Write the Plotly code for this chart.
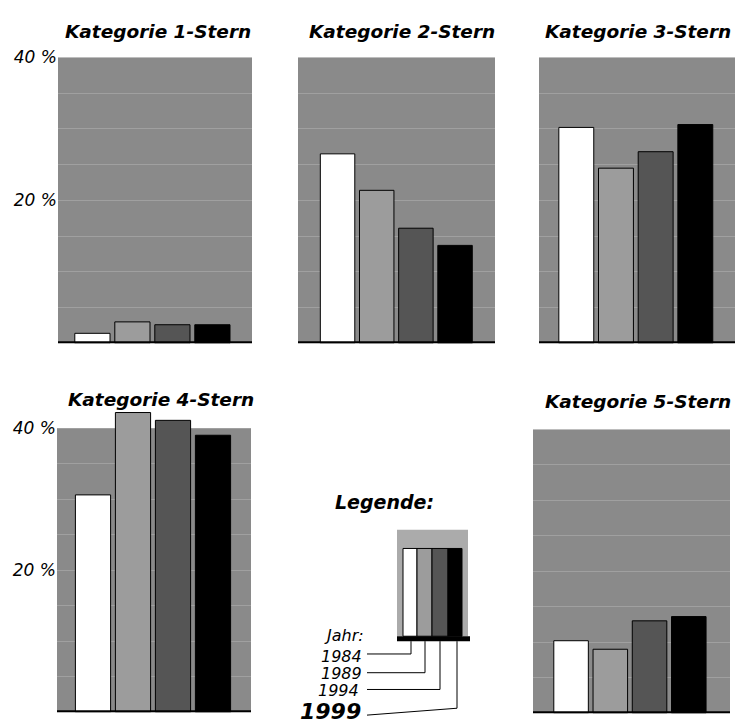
import plotly.graph_objects as go

W, H = 735, 724

# ---------------- data ----------------
years = ["1984", "1989", "1994", "1999"]
categories = ["Kategorie 1-Stern", "Kategorie 2-Stern", "Kategorie 3-Stern",
              "Kategorie 4-Stern", "Kategorie 5-Stern"]
k1 = [1.4, 3.0, 2.6, 2.6]
k2 = [26.5, 21.4, 16.1, 13.7]
k3 = [30.2, 24.5, 26.8, 30.6]
k4 = [30.6, 42.2, 41.1, 39.0]
k5 = [10.2, 9.0, 13.0, 13.6]
values = [k1, k2, k3, k4, k5]
tick_vals = [5, 10, 15, 20, 25, 30, 35, 40]
tick_text = ["", "", "", "20 %", "", "", "", "40 %"]

# ---------------- style ----------------
bar_colors = ["#ffffff", "#9c9c9c", "#555555", "#000000"]
bg_color = "#8a8a8a"
grid_color = "#a0a0a0"
legend_bg = "#ababab"
FONT = "DejaVu Sans"

# panel geometry in pixels: x0, x1, y(0%), y(40%), xrange, ymax
panels = [
    (58, 252, 338, 48, [-0.86, 3.99], 40),
    (298, 495, 338, 48, [-1.01, 4.02], 40),
    (539, 735, 338, 48, [-0.94, 4.0], 40),
    (57, 251, 712, 424, [-0.90, 3.95], 43),
    (533, 730, 713, 425, [-0.97, 4.05], 40),
]
title_pos = [(158, 22), (402, 22), (638, 22), (161, 395), (638, 397)]


def px(x):
    return x / W


def py(y):
    return 1 - y / H


fig = go.Figure()
shapes = []
annotations = []

for i, (x0, x1, y0, y40, xr, ymax) in enumerate(panels):
    n = i + 1
    xa = "x" if n == 1 else f"x{n}"
    ya = "y" if n == 1 else f"y{n}"
    per = (y0 - y40) / 40.0
    ytop = y0 - ymax * per
    fig.add_trace(go.Bar(
        x=[0, 1, 2, 3], y=values[i], width=0.88,
        marker=dict(color=bar_colors, line=dict(color="#000000", width=1)),
        xaxis=xa, yaxis=ya, showlegend=False, hoverinfo="skip"))
    fig.layout[f"xaxis{'' if n == 1 else n}"] = dict(
        domain=[px(x0), px(x1)], range=xr, anchor=ya,
        showgrid=False, zeroline=False, showline=False, showticklabels=False,
        fixedrange=True)
    show_lbl = n in (1, 4)
    fig.layout[f"yaxis{'' if n == 1 else n}"] = dict(
        domain=[py(y0), py(ytop)], range=[0, ymax], anchor=xa,
        tickvals=tick_vals, ticktext=tick_text, showticklabels=show_lbl,
        showgrid=True, gridcolor=grid_color, gridwidth=1,
        zeroline=False, showline=False, ticks="",
        tickfont=dict(family=FONT, size=17, color="#000000", style="italic"),
        fixedrange=True)
    # halftone background
    shapes.append(dict(type="rect", xref=f"{xa} domain", yref=ya,
                       x0=0, x1=1, y0=0, y1=40, fillcolor=bg_color,
                       line=dict(width=0), layer="below"))
    # thick baseline
    shapes.append(dict(type="line", xref=f"{xa} domain", yref=ya,
                       x0=0, x1=1, y0=0, y1=0,
                       line=dict(color="#000000", width=4), layer="above"))
    tx, ty = title_pos[i]
    annotations.append(dict(text=categories[i], x=px(tx), y=py(ty),
                            xref="paper", yref="paper", showarrow=False,
                            xanchor="center", yanchor="middle",
                            font=dict(family=FONT, size=18.5, color="#000000",
                                      weight="bold", style="italic")))

# ---------------- legend graphic ----------------
shapes.append(dict(type="rect", xref="paper", yref="paper",
                   x0=px(397), x1=px(468), y0=py(635), y1=py(527),
                   fillcolor=legend_bg, line=dict(width=0)))
leg_x = [403, 417, 432, 448, 462]
for j in range(4):
    shapes.append(dict(type="rect", xref="paper", yref="paper",
                       x0=px(leg_x[j]), x1=px(leg_x[j + 1]), y0=py(635), y1=py(546),
                       fillcolor=bar_colors[j], line=dict(color="#000000", width=1)))
shapes.append(dict(type="rect", xref="paper", yref="paper",
                   x0=px(397), x1=px(470), y0=py(640), y1=py(635),
                   fillcolor="#000000", line=dict(width=0)))
leader = [((367, 653), (411, 653)), ((367, 672), (425, 672)),
          ((367, 689), (440, 689)), ((367, 715), (457, 708))]
for (a, b) in leader:
    path = (f"M {px(a[0])} {py(a[1])} L {px(b[0])} {py(b[1])} "
            f"L {px(b[0])} {py(640)}")
    shapes.append(dict(type="path", xref="paper", yref="paper", path=path,
                       line=dict(color="#000000", width=1)))

annotations.append(dict(text="Legende:", x=px(384), y=py(499), xref="paper",
                        yref="paper", showarrow=False, xanchor="center",
                        yanchor="middle",
                        font=dict(family=FONT, size=19, color="#000000",
                                  weight="bold", style="italic")))
annotations.append(dict(text="Jahr:", x=px(366), y=py(634), xref="paper",
                        yref="paper", showarrow=False, xanchor="right",
                        yanchor="middle",
                        font=dict(family=FONT, size=16, color="#000000",
                                  style="italic")))
leg_lbl_pos = [(364, 656), (364, 673), (361, 690), (363, 711)]
for j, yr in enumerate(years):
    big = j == 3
    annotations.append(dict(text=yr, x=px(leg_lbl_pos[j][0]), y=py(leg_lbl_pos[j][1]),
                            xref="paper", yref="paper", showarrow=False,
                            xanchor="right", yanchor="middle",
                            font=dict(family=FONT, size=22 if big else 16,
                                      color="#000000", style="italic",
                                      weight="bold" if big else "normal")))

fig.update_layout(width=W, height=H, autosize=False,
                  margin=dict(l=0, r=0, t=0, b=0, pad=0),
                  paper_bgcolor="#ffffff", plot_bgcolor="#ffffff",
                  bargap=0, shapes=shapes, annotations=annotations,
                  showlegend=False)

fig.write_html("out.html",
               config={"displayModeBar": False, "staticPlot": True},
               post_script="document.body.style.margin='0';"
                           "document.body.style.overflow='hidden';")
